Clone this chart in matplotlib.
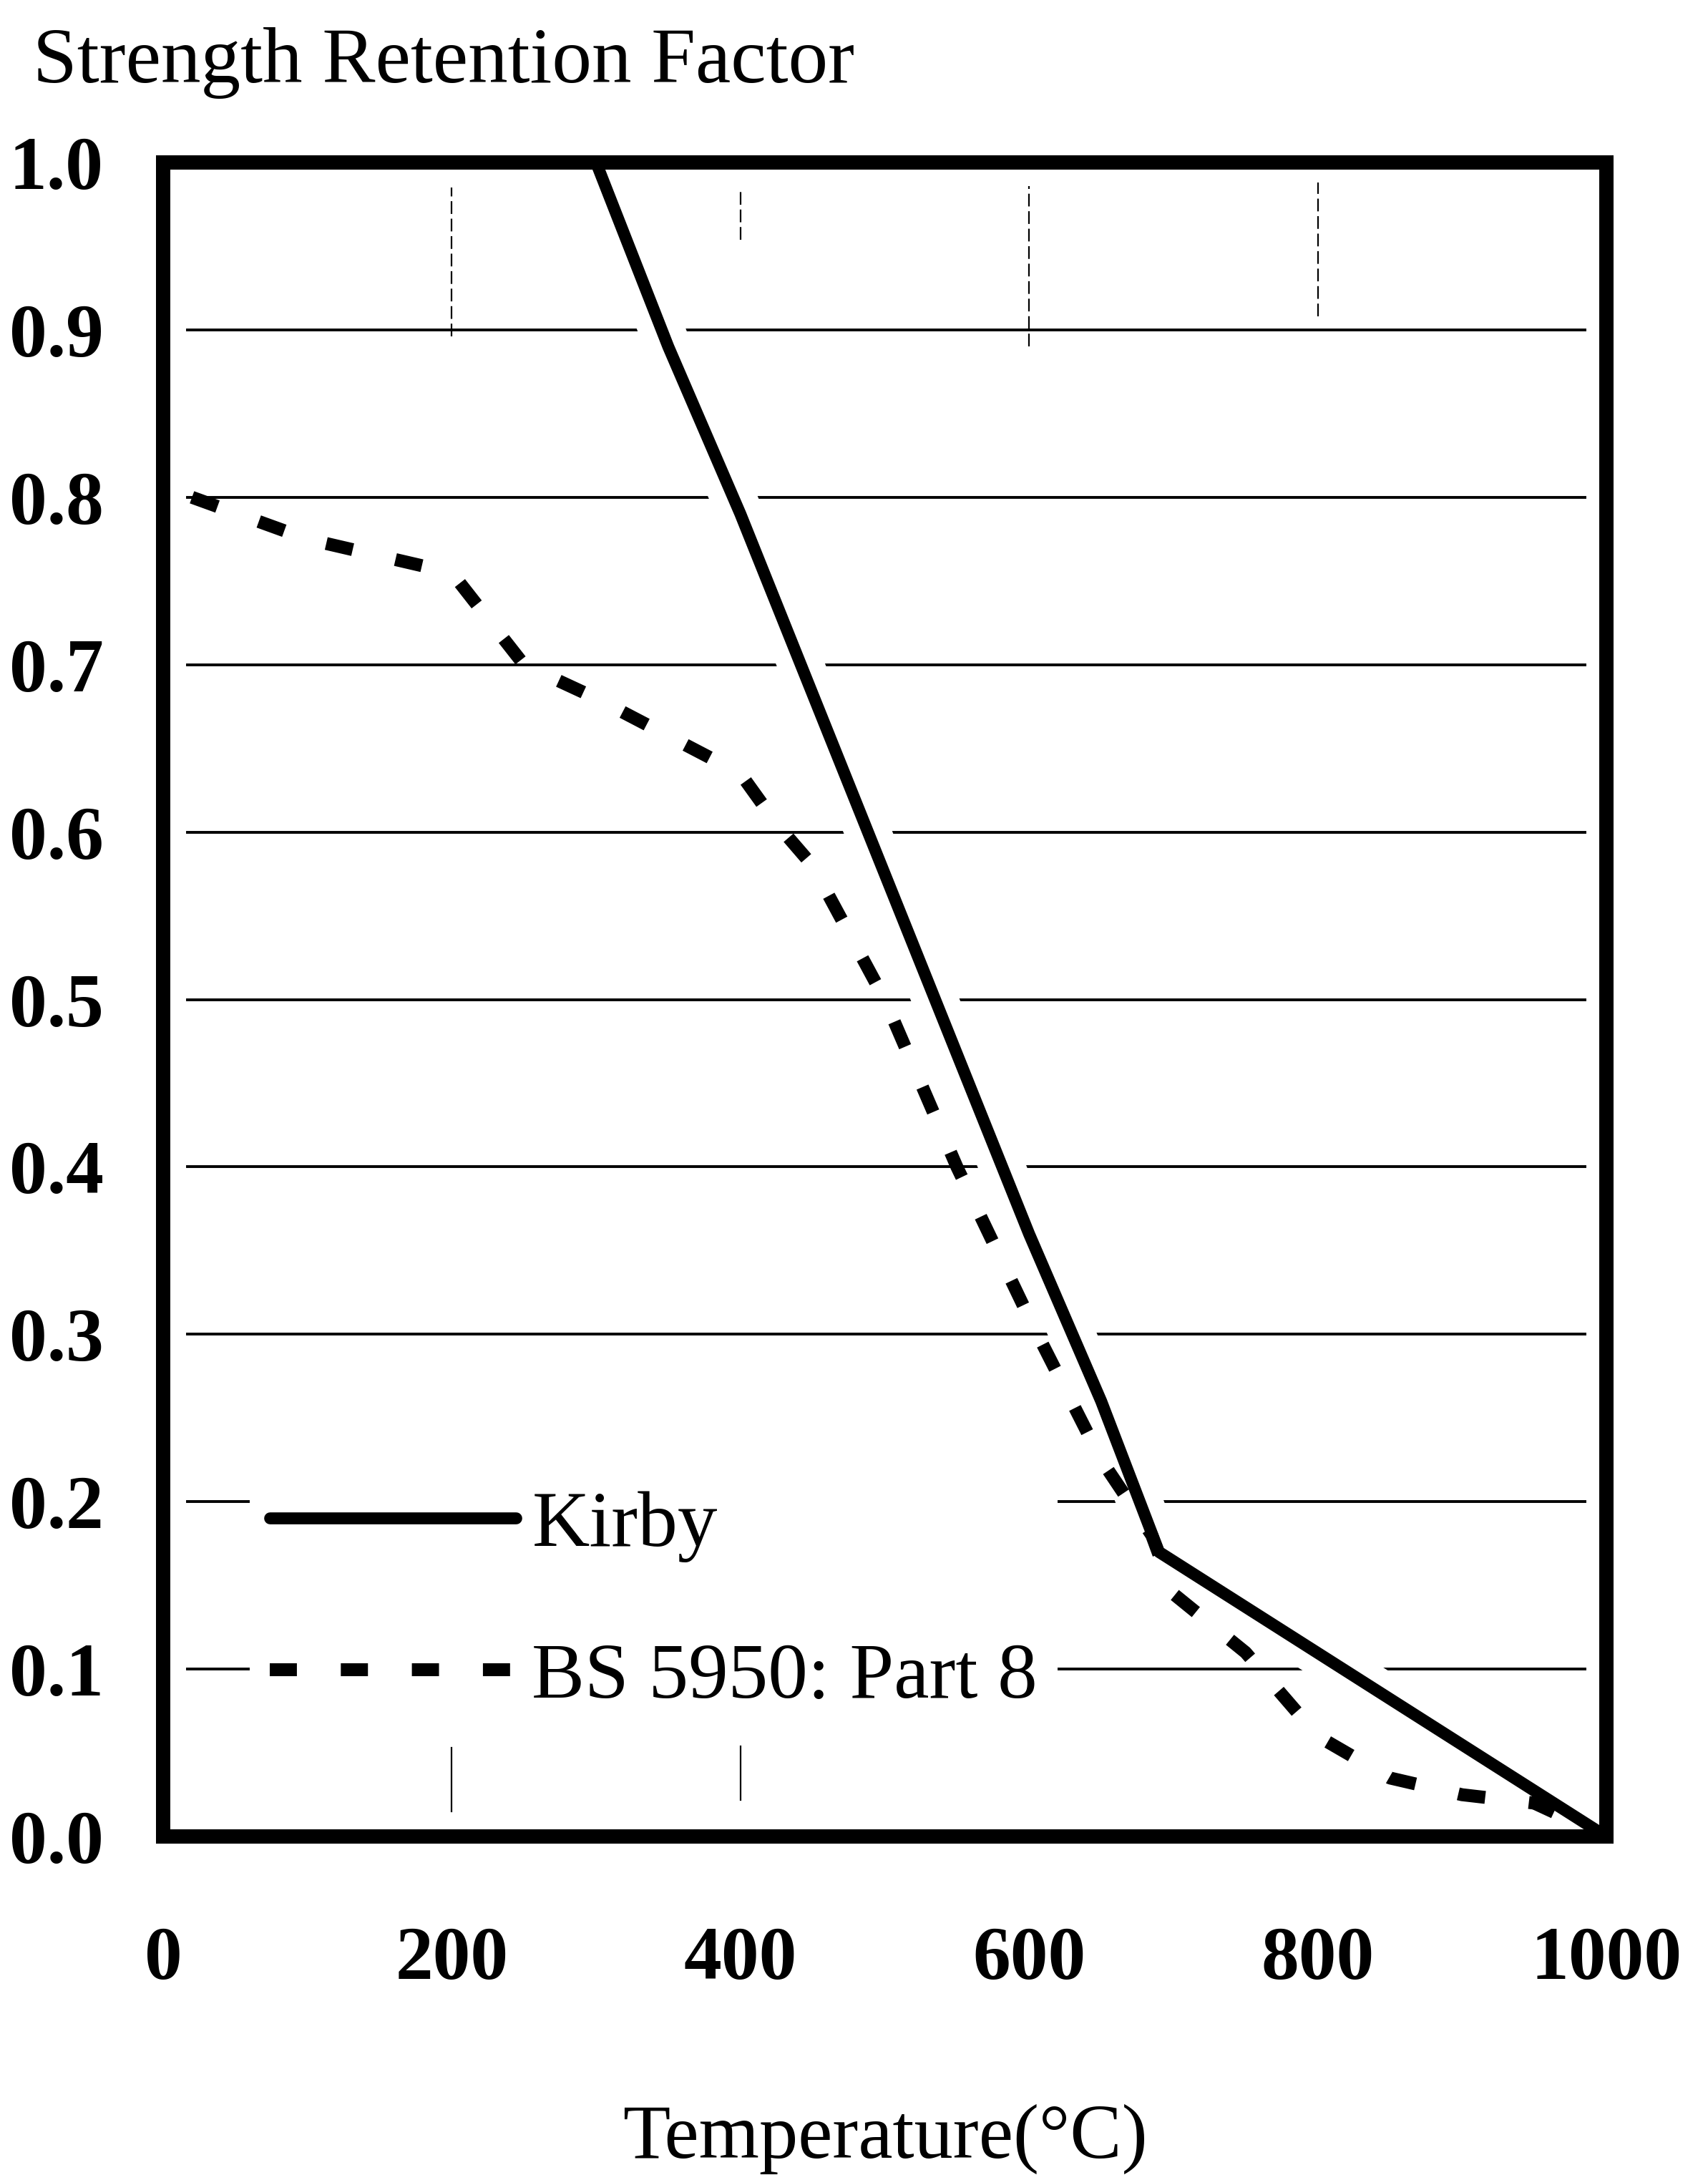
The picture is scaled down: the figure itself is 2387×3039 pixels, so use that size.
import matplotlib
matplotlib.use('Agg')
import matplotlib.pyplot as plt

plt.rcParams['font.family'] = ['Liberation Serif', 'DejaVu Serif']

# Kirby curve
kirby_temp = [300, 350, 400, 600, 650, 690, 1000]
kirby_factor = [1.0, 0.89, 0.79, 0.36, 0.26, 0.17, 0.0]

# BS 5950: Part 8 curve
bs_temp = [20, 100, 200, 250, 300, 400, 425, 450, 475, 500, 550, 600,
           650, 685, 700, 750, 800, 850, 900, 950, 1000]
bs_factor = [0.80, 0.775, 0.755, 0.70, 0.68, 0.635, 0.605, 0.58, 0.54, 0.50,
             0.40, 0.31, 0.225, 0.18, 0.145, 0.11, 0.06, 0.035, 0.025, 0.02, 0.0]

x_ticks = [0, 200, 400, 600, 800, 1000]
y_ticks = [0.0, 0.1, 0.2, 0.3, 0.4, 0.5, 0.6, 0.7, 0.8, 0.9, 1.0]

fig = plt.figure(figsize=(23.87, 30.39), dpi=100)
ax = fig.add_axes([0.0955, 0.1556, 0.845, 0.7697])
ax.set_xlim(0, 1000)
ax.set_ylim(0, 1)

# horizontal gridlines (stop short of the frame)
for y in y_ticks[1:-1]:
    ax.axhline(y, xmin=0.017, xmax=0.985, color='black', lw=2.8, zorder=1)

# faint vertical grid, only fragments survive in the scan
for x, y0, y1 in [(200, 0.896, 0.985), (400, 0.954, 0.984),
                  (600, 0.89, 0.986), (800, 0.908, 0.988)]:
    ax.axvline(x, ymin=y0, ymax=y1, color='black', lw=1.6,
               ls=(0, (8, 3)), zorder=1)
for x, y0, y1 in [(200, 0.015, 0.053), (400, 0.022, 0.054)]:
    ax.axvline(x, ymin=y0, ymax=y1, color='black', lw=1.6, zorder=1)

# white halo under the Kirby line breaks the gridlines
ax.plot(kirby_temp, kirby_factor, color='white', lw=46, zorder=1.5,
        solid_capstyle='butt', label='_nolegend_')
ax.plot(bs_temp, bs_factor, color='black', lw=13, ls=(0, (2.1, 3.4)),
        zorder=2, label='BS 5950: Part 8')
ax.plot(kirby_temp, kirby_factor, color='black', lw=12, zorder=2.1,
        solid_capstyle='round', label='Kirby')

handles, labels = ax.get_legend_handles_labels()
leg = ax.legend(handles[::-1], labels[::-1], loc='center left',
                bbox_to_anchor=(0.06, 0.14), fontsize=80, frameon=True,
                facecolor='white', edgecolor='none', framealpha=1,
                handlelength=3.1, handletextpad=0.2, labelspacing=1.0,
                borderpad=0.25, borderaxespad=0, fancybox=False)
leg.set_zorder(1.8)

ax.set_xticks(x_ticks)
ax.set_yticks(y_ticks)
ax.set_yticklabels([f'{v:.1f}' for v in y_ticks])
ax.tick_params(length=0, labelsize=76)
ax.tick_params(axis='y', pad=60)
ax.tick_params(axis='x', pad=90)
for lab in ax.get_xticklabels() + ax.get_yticklabels():
    lab.set_fontweight('bold')

for sp in ax.spines.values():
    sp.set_linewidth(14.4)
    sp.set_capstyle('projecting')
    sp.set_zorder(3)

fig.text(0.0193, 0.9622, 'Strength Retention Factor', fontsize=80,
         ha='left', va='baseline')
fig.text(0.518, 0.008, 'Temperature(°C)', fontsize=78,
         ha='center', va='baseline')

fig.savefig('out.png', dpi=100, facecolor='white')
